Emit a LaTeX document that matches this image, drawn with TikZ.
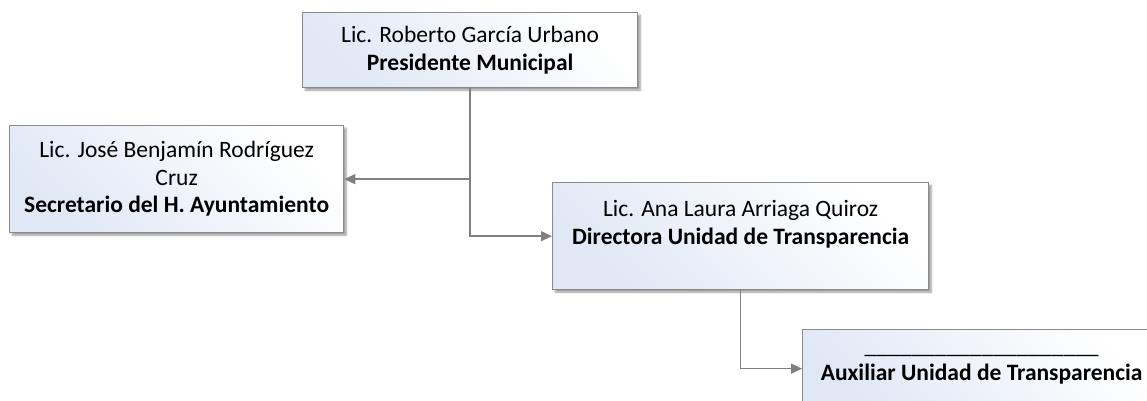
\documentclass[tikz,border=0pt]{standalone}
\usepackage{fontspec}
\setmainfont{Carlito}
\usetikzlibrary{calc,positioning,shadows.blur,arrows.meta}

\definecolor{boxblue}{RGB}{224,232,246}
\definecolor{linegray}{RGB}{128,128,128}
\definecolor{bordergray}{RGB}{138,138,138}

\tikzset{
  orgbox/.style={draw=bordergray, line width=1.3, anchor=north west, align=center,
    inner sep=0, top color=white, bottom color=boxblue, shading angle=-45,
    blur shadow={shadow xshift=2.5, shadow yshift=-2.5, shadow blur steps=6, shadow opacity=40},
    font=\fontsize{23.5}{27.5}\selectfont},
  conn/.style={draw=linegray, line width=1.5, -{Triangle[length=11,width=10]}}
}

\begin{document}
\begin{tikzpicture}[x=1pt,y=-1pt]
  \clip (0,0) rectangle (1147,400);

  \node[orgbox, minimum width=335, minimum height=75] (pres) at (302,12)
    {Lic. Roberto García Urbano\\ \textbf{Presidente Municipal}};
  \node[orgbox, minimum width=334, minimum height=107] (sec) at (9,125)
    {Lic. José Benjamín Rodríguez\\ Cruz\\ \textbf{Secretario del H. Ayuntamiento}};
  \node[orgbox, minimum width=376, minimum height=107] (dir) at (552,182)
    {Lic. Ana Laura Arriaga Quiroz\\ \textbf{Directora Unidad de Transparencia}\\ \mbox{}};
  \node[orgbox, minimum width=358, minimum height=78] (aux) at (802,329)
    {\_\_\_\_\_\_\_\_\_\_\_\_\_\_\_\_\_\_\_\_\\ \textbf{Auxiliar Unidad de Transparencia}};

  \draw[conn] (pres.south) |- (dir.west);
  \draw[conn] (pres.south |- sec.east) -- (sec.east);
  \draw[conn] (dir.south) |- (aux.west);
\end{tikzpicture}
\end{document}
